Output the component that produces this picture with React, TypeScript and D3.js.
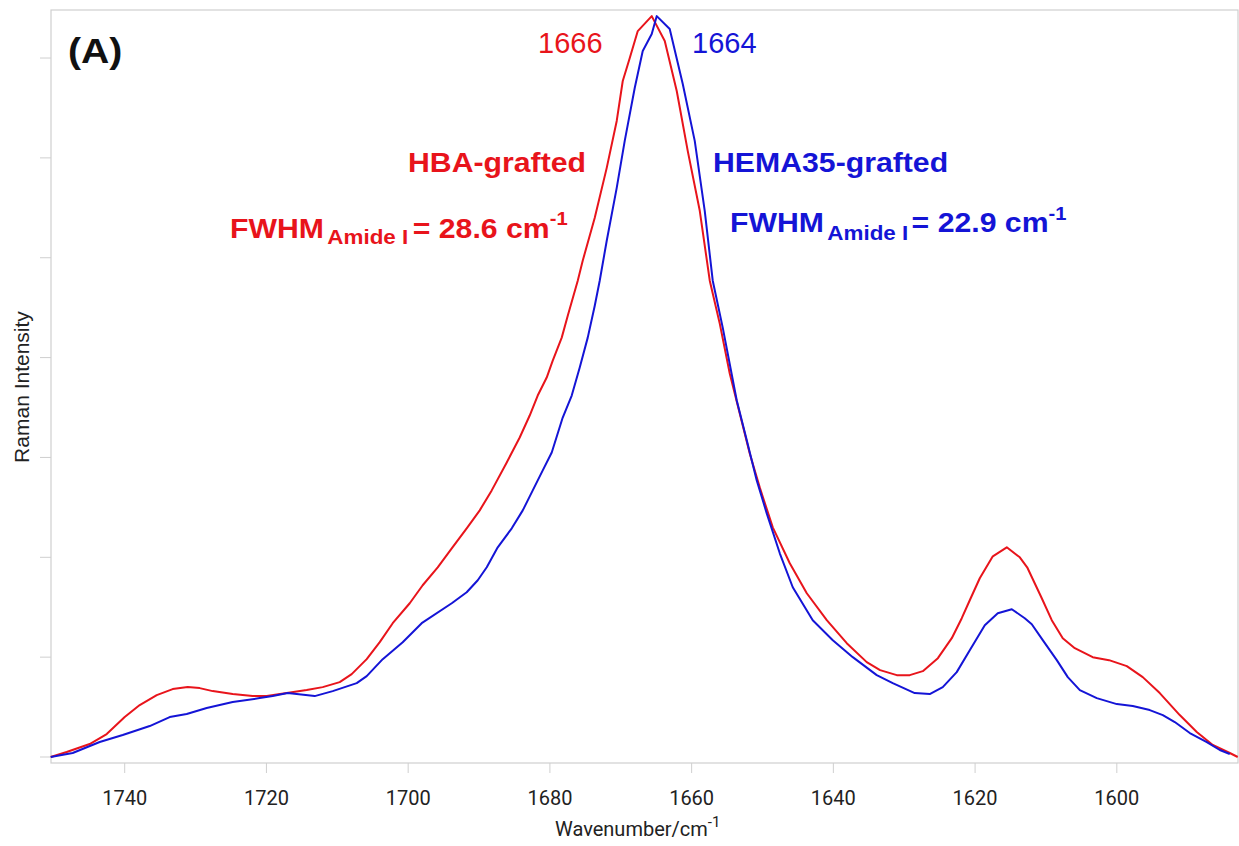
import React from 'react';
import * as d3 from 'd3';

// HBA-grafted (red) spectrum
const redWavenumber = [
  1750.44, 1748.19, 1744.94, 1742.54, 1740.0, 1737.88, 1735.48, 1733.23, 1731.11, 1729.42,
  1727.58, 1724.76, 1721.94, 1719.96, 1717.14, 1714.32, 1712.06, 1709.66, 1707.97, 1705.85,
  1704.01, 1702.18, 1699.78, 1697.95, 1695.83, 1693.85, 1691.74, 1689.9, 1688.21, 1686.09,
  1684.26, 1682.85, 1681.72, 1680.45, 1679.6, 1678.33, 1677.48, 1676.07, 1675.37, 1673.67,
  1671.98, 1670.57, 1669.72, 1668.73, 1667.6, 1665.63, 1663.79, 1662.1, 1660.55, 1658.85,
  1657.44, 1656.03, 1654.62, 1653.21, 1651.8, 1650.39, 1648.55, 1646.15, 1643.75, 1640.93,
  1638.11, 1635.29, 1633.41, 1631.05, 1629.22, 1627.38, 1625.25, 1623.29, 1621.88, 1620.75,
  1619.34, 1617.5, 1615.53, 1613.69, 1612.65, 1610.59, 1609.18, 1607.63, 1605.93, 1603.4,
  1601.1, 1598.59, 1596.34, 1593.94, 1591.12, 1588.72, 1586.46, 1584.06, 1582.94,
];
const redIntensity = [
  0.0, 0.05, 0.13, 0.23, 0.4, 0.52, 0.62, 0.68, 0.7, 0.69,
  0.66, 0.63, 0.61, 0.61, 0.64, 0.67, 0.7, 0.75, 0.83, 0.98,
  1.15, 1.34, 1.54, 1.72, 1.9, 2.09, 2.29, 2.47, 2.67, 2.95,
  3.2, 3.42, 3.62, 3.8, 3.97, 4.2, 4.42, 4.77, 4.97, 5.4,
  5.9, 6.37, 6.77, 7.0, 7.27, 7.42, 7.17, 6.67, 6.07, 5.47,
  4.77, 4.34, 3.84, 3.44, 3.04, 2.7, 2.3, 1.94, 1.64, 1.37,
  1.14, 0.95, 0.87, 0.82, 0.82, 0.86, 0.99, 1.19, 1.39, 1.57,
  1.79, 2.01, 2.1, 2.0, 1.9, 1.59, 1.37, 1.19, 1.09, 1.0,
  0.97, 0.91, 0.8, 0.64, 0.42, 0.25, 0.12, 0.04, 0.0,
];

// HEMA35-grafted (blue) spectrum
const blueWavenumber = [
  1750.44, 1747.34, 1743.53, 1740.28, 1736.47, 1733.65, 1731.25, 1728.43, 1724.76, 1720.95,
  1719.11, 1717.0, 1713.19, 1710.65, 1707.26, 1705.85, 1703.59, 1700.77, 1698.09, 1693.85,
  1691.74, 1690.18, 1688.91, 1687.36, 1685.38, 1683.83, 1682.42, 1681.01, 1679.74, 1678.19,
  1676.92, 1675.79, 1674.66, 1673.67, 1672.97, 1671.98, 1670.57, 1669.44, 1668.03, 1666.9,
  1665.63, 1664.92, 1663.09, 1661.25, 1659.56, 1658.15, 1657.02, 1655.61, 1653.63, 1652.21,
  1650.81, 1649.4, 1647.56, 1645.73, 1642.91, 1640.08, 1637.26, 1633.88, 1631.62, 1628.52,
  1626.4, 1624.56, 1622.59, 1620.75, 1618.63, 1616.8, 1614.82, 1612.99, 1612.0, 1610.45,
  1608.47, 1606.92, 1605.22, 1602.83, 1600.0, 1597.75, 1595.35, 1593.51, 1591.82, 1589.7,
  1587.3, 1585.47, 1584.06,
];
const blueIntensity = [
  0.0, 0.04, 0.15, 0.22, 0.31, 0.4, 0.43, 0.49, 0.55, 0.59,
  0.61, 0.64, 0.61, 0.66, 0.74, 0.81, 0.98, 1.15, 1.34, 1.54,
  1.65, 1.77, 1.9, 2.1, 2.29, 2.47, 2.67, 2.87, 3.05, 3.4,
  3.62, 3.9, 4.2, 4.52, 4.77, 5.17, 5.7, 6.17, 6.7, 7.07,
  7.24, 7.42, 7.29, 6.74, 6.17, 5.47, 4.77, 4.3, 3.57, 3.17,
  2.77, 2.44, 2.04, 1.7, 1.37, 1.17, 1.0, 0.82, 0.74, 0.64,
  0.63, 0.7, 0.85, 1.07, 1.32, 1.44, 1.48, 1.39, 1.33, 1.17,
  0.97, 0.8, 0.67, 0.59, 0.53, 0.51, 0.47, 0.42, 0.35, 0.24,
  0.15, 0.07, 0.03,
];

const xTickValues = [1740, 1720, 1700, 1680, 1660, 1640, 1620, 1600];
const yTickValues = [0, 1, 2, 3, 4, 5, 6, 7];

const RED = '#e8141b';
const BLUE = '#1414d6';

export default function App() {
  const W = 1239;
  const H = 846;
  const left = 51;
  const right = 1238;
  const top = 10;
  const bottom = 763;

  const x = d3.scaleLinear().domain([1750.4, 1582.9]).range([left, right]);
  const y = d3.scaleLinear().domain([-0.06, 7.481]).range([bottom, top]);

  const line = d3
    .line<[number, number]>()
    .x((d) => x(d[0]))
    .y((d) => y(d[1]));

  const redPts: [number, number][] = redWavenumber.map((w, i) => [w, redIntensity[i]]);
  const bluePts: [number, number][] = blueWavenumber.map((w, i) => [w, blueIntensity[i]]);

  const arial = '"Liberation Sans", Arial, sans-serif';
  const roboto = 'Roboto, "Open Sans", sans-serif';
  const frame = '#cfcfcf';

  return (
    <svg
      width={W}
      height={H}
      style={{ position: 'absolute', left: 0, top: 0, background: '#fff' }}
    >
      <rect x={0} y={0} width={W} height={H} fill="#fff" />
      {/* frame */}
      <rect x={left} y={top} width={right - left} height={bottom - top} fill="none" stroke={frame} strokeWidth={1.2} />
      {/* y ticks */}
      {yTickValues.map((v) => (
        <line key={'yt' + v} x1={left - 11} x2={left} y1={y(v)} y2={y(v)} stroke={frame} strokeWidth={1} />
      ))}
      {/* x ticks */}
      {xTickValues.map((v) => (
        <g key={'xt' + v}>
          <line x1={x(v)} x2={x(v)} y1={bottom} y2={bottom + 10} stroke={frame} strokeWidth={1} />
          <text x={x(v)} y={805} textAnchor="middle" fontFamily={roboto} fontSize={20} fill="#222">
            {v}
          </text>
        </g>
      ))}
      {/* axis titles */}
      <text x={555} y={836} fontFamily={roboto} fontSize={20} fill="#222">
        Wavenumber/cm
        <tspan fontSize={15} dy={-9}>-1</tspan>
      </text>
      <text
        transform={`translate(29,387) rotate(-90)`}
        textAnchor="middle"
        fontFamily={arial}
        fontSize={21}
        fill="#222"
      >
        Raman Intensity
      </text>

      {/* curves */}
      <path d={line(redPts) || ''} fill="none" stroke={RED} strokeWidth={2} strokeLinejoin="round" />
      <path d={line(bluePts) || ''} fill="none" stroke={BLUE} strokeWidth={2} strokeLinejoin="round" />

      {/* panel label */}
      <text transform="translate(68,63) scale(1.12,1)" fontFamily={arial} fontWeight="bold" fontSize={35} fill="#111">
        (A)
      </text>

      {/* peak labels */}
      <text x={538} y={53} fontFamily={arial} fontSize={29} fill={RED}>1666</text>
      <text x={692} y={53} fontFamily={arial} fontSize={29} fill={BLUE}>1664</text>

      {/* sample labels */}
      <text transform="translate(408,172) scale(1.12,1)" fontFamily={arial} fontWeight="bold" fontSize={27} fill={RED}>
        HBA-grafted
      </text>
      <text transform="translate(713,172) scale(1.12,1)" fontFamily={arial} fontWeight="bold" fontSize={27} fill={BLUE}>
        HEMA35-grafted
      </text>

      {/* FWHM annotations */}
      <text transform="translate(230,238) scale(1.12,1)" fontFamily={arial} fontWeight="bold" fontSize={27} fill={RED}>
        FWHM
        <tspan fontSize={20} dy={6} dx={3}>Amide I</tspan>
        <tspan dy={-6} dx={4}>= 28.6 cm</tspan>
        <tspan fontSize={18} dy={-13}>-1</tspan>
      </text>
      <text transform="translate(730,232) scale(1.12,1)" fontFamily={arial} fontWeight="bold" fontSize={27} fill={BLUE}>
        FWHM
        <tspan fontSize={20} dy={8} dx={3}>Amide I</tspan>
        <tspan dy={-8} dx={3}>= 22.9 cm</tspan>
        <tspan fontSize={18} dy={-12}>-1</tspan>
      </text>
    </svg>
  );
}
